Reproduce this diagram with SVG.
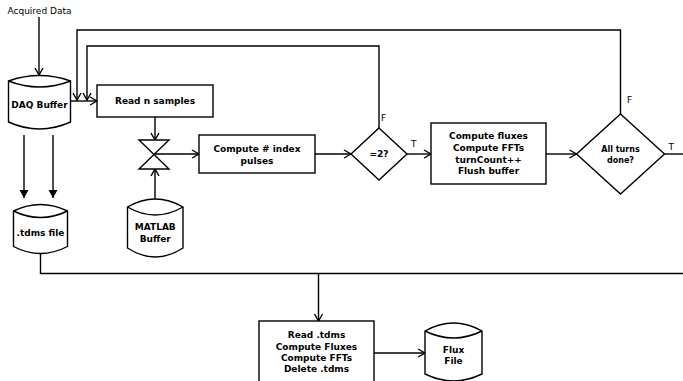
<svg xmlns="http://www.w3.org/2000/svg" width="683" height="381" viewBox="0 0 683 381">
  <style>
    .shape { fill: #ffffff; stroke: #000000; stroke-width: 1.4; }
    .line { fill: none; stroke: #000000; stroke-width: 1.4; }
    .open { marker-end: url(#open-arrow); }
    .solid { marker-end: url(#solid-arrow); }
    text { font-family: "DejaVu Sans", "Liberation Sans", sans-serif; fill: #000000; }
    .label { font-size: 9px; font-weight: bold; text-anchor: middle; }
    .small { font-size: 8px; font-weight: bold; text-anchor: middle; }
    .plain { font-size: 9px; }
  </style>
  <defs>
    <marker id="open-arrow" viewBox="-9 -6 11 12" markerWidth="11" markerHeight="12" refX="0" refY="0" orient="auto" markerUnits="userSpaceOnUse">
      <path d="M-7,-4 L0,0 L-7,4" fill="none" stroke="#000" stroke-width="1.4"/>
    </marker>
    <marker id="solid-arrow" viewBox="-9 -6 10 12" markerWidth="10" markerHeight="12" refX="0" refY="0" orient="auto" markerUnits="userSpaceOnUse">
      <path d="M-8,-4.5 L0,0 L-8,4.5 Z" fill="#000" stroke="none"/>
    </marker>
  </defs>

  <rect width="683" height="381" fill="#ffffff"/>

  <!-- connectors -->
  <g id="connectors">
    <path class="line open" d="M39,17 V75"/>
    <path class="line open" d="M71,101 H97"/>
    <path class="line open" d="M620.5,114 V30 H77 V100"/>
    <path class="line open" d="M379,128 V46 H87 V100"/>
    <path class="line open" d="M155,117 V140"/>
    <path class="line open" d="M155,199 V169"/>
    <path class="line open" d="M154,154 H199"/>
    <path class="line open" d="M315,154 H351"/>
    <path class="line open" d="M407,154 H431"/>
    <path class="line open" d="M546,154 H576.5"/>
    <path class="line" d="M664.5,154 H683"/>
    <path class="line solid" d="M24,135 V198"/>
    <path class="line solid" d="M53,135 V198"/>
    <path class="line" d="M40.5,253.5 V273.5 H683"/>
    <path class="line open" d="M318.5,273.5 V321"/>
    <path class="line open" d="M374,353 H425"/>
    <text class="plain" x="381" y="120.5">F</text>
    <text class="plain" x="411" y="146.5">T</text>
    <text class="plain" x="627" y="102.5">F</text>
    <text class="plain" x="668.5" y="149.5">T</text>
  </g>

  <g id="acquired-data">
    <text class="plain" x="7.5" y="13.5">Acquired Data</text>
  </g>

  <g id="daq-buffer">
    <path class="shape" d="M8.5,81 Q39.5,70 70.5,81 V122 Q39.5,136 8.5,122 Z"/>
    <path class="line" d="M8.5,81 Q39.5,93 70.5,81"/>
    <text class="label" x="39.5" y="107.5">DAQ Buffer</text>
  </g>

  <g id="read-samples">
    <rect class="shape" x="97" y="85" width="116" height="32"/>
    <text class="label" x="155" y="104">Read n samples</text>
  </g>

  <g id="merge">
    <path class="shape" d="M139,140 H169 L139,169 H169 Z"/>
  </g>

  <g id="matlab-buffer">
    <path class="shape" d="M127.5,207 Q155.25,191 183,207 V248 Q155.25,266 127.5,248 Z"/>
    <path class="line" d="M127.5,207 Q155.25,223 183,207"/>
    <text class="label" x="155.25" y="230">MATLAB</text>
    <text class="label" x="155.25" y="242.3">Buffer</text>
  </g>

  <g id="compute-index">
    <rect class="shape" x="199" y="135" width="116" height="38"/>
    <text class="label" x="257" y="152.3">Compute # index</text>
    <text class="label" x="257" y="164">pulses</text>
  </g>

  <g id="check-two">
    <path class="shape" d="M379,128 L407,154 L379,180 L351,154 Z"/>
    <text class="label" x="379" y="157.3">=2?</text>
  </g>

  <g id="compute-fluxes">
    <rect class="shape" x="431" y="123" width="115" height="61"/>
    <text class="label" x="488.5" y="139.3">Compute fluxes</text>
    <text class="label" x="488.5" y="151">Compute FFTs</text>
    <text class="label" x="488.5" y="162.6">turnCount++</text>
    <text class="label" x="488.5" y="174">Flush buffer</text>
  </g>

  <g id="all-turns">
    <path class="shape" d="M620.5,114 L664.5,154 L620.5,194 L576.5,154 Z"/>
    <text class="small" x="620.5" y="152">All turns</text>
    <text class="small" x="620.5" y="163">done?</text>
  </g>

  <g id="tdms-file">
    <path class="shape" d="M13.5,211 Q40.5,198 67.5,211 V246.5 Q40.5,260.5 13.5,246.5 Z"/>
    <path class="line" d="M13.5,211 Q40.5,224 67.5,211"/>
    <text class="label" x="40.5" y="236">.tdms file</text>
  </g>

  <g id="post-process">
    <rect class="shape" x="259" y="321" width="115" height="70"/>
    <text class="label" x="316.5" y="338.3">Read .tdms</text>
    <text class="label" x="316.5" y="349.8">Compute Fluxes</text>
    <text class="label" x="316.5" y="361.1">Compute FFTs</text>
    <text class="label" x="316.5" y="372.4">Delete .tdms</text>
  </g>

  <g id="flux-file">
    <path class="shape" d="M425,331 Q453.5,315 482,331 V374 Q453.5,388 425,374 Z"/>
    <path class="line" d="M425,331 Q453.5,345 482,331"/>
    <text class="label" x="453.5" y="352.6">Flux</text>
    <text class="label" x="453.5" y="363.8">File</text>
  </g>
</svg>
